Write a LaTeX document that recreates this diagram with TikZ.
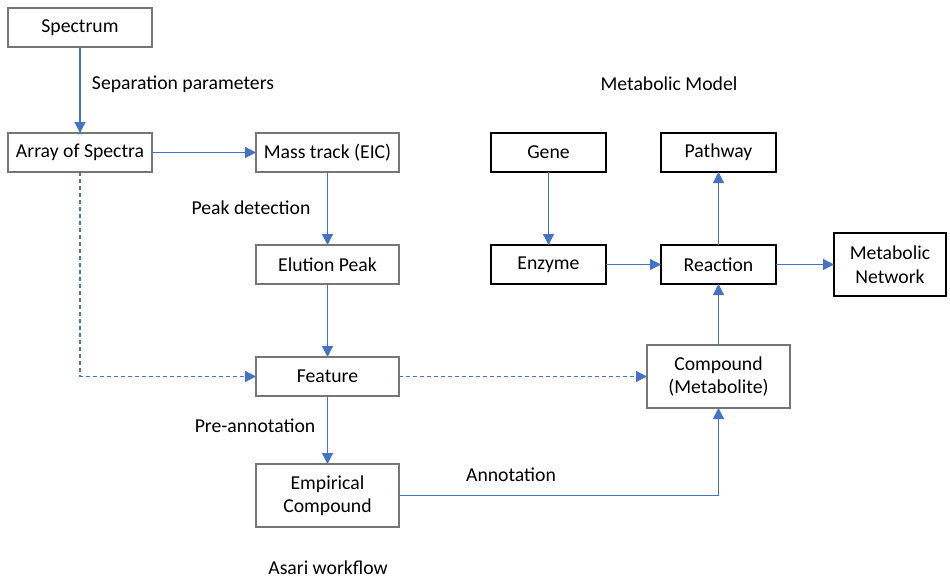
\documentclass[tikz,border=0pt]{standalone}
\usepackage{fontspec}
\setmainfont{Carlito}
\usetikzlibrary{arrows.meta,positioning}
\definecolor{linkblue}{HTML}{4472C4}
\definecolor{boxgray}{HTML}{767676}
\tikzset{every picture/.style={line width=1.2pt}}

\begin{document}
\begin{tikzpicture}[x=1pt,y=-1pt,node distance=73pt,
    font=\fontsize{19.7}{23.5}\selectfont,
    box/.style={draw=boxgray,line width=1.2pt,minimum width=143pt,minimum height=39pt,inner sep=0pt,outer sep=0pt,align=center},
    mbox/.style={draw=black,line width=1.2pt,minimum width=115pt,minimum height=39pt,inner sep=0pt,outer sep=0pt,align=center},
    tall/.style={minimum height=63pt},
    link/.style={draw=linkblue,line width=1.2pt,-{Triangle[length=11pt,width=11pt]}},
    maybe/.style={link,dash pattern=on 4pt off 3pt}]
    \useasboundingbox (0,0) rectangle (950,581);
    % asari workflow
    \node[box,minimum width=144pt] (spectrum) at (80,27.5) {Spectrum};
    \node[box,minimum width=144pt,below=86pt of spectrum] (array) {Array of Spectra};
    \node[box,right=104pt of array] (masstrack) {Mass track (EIC)};
    \node[box,below=of masstrack] (elution) {Elution Peak};
    \node[box,below=of elution] (feature) {Feature};
    \node[box,tall,below=68pt of feature] (empirical) {Empirical\\Compound};
    % metabolic model
    \node[mbox,right=92pt of masstrack] (gene) {Gene};
    \node[mbox,below=of gene] (enzyme) {Enzyme};
    \node[mbox,right=55pt of enzyme] (reaction) {Reaction};
    \node[mbox,above=of reaction] (pathway) {Pathway};
    \node[mbox,tall,minimum width=112pt,right=58pt of reaction] (network) {Metabolic\\Network};
    \node[box,tall,below=61pt of reaction] (compound) {Compound\\(Metabolite)};
    \coordinate (turn) at (array.south |- feature.west);
    % labels
    \node (seplabel) at (183,84) {Separation parameters};
    \node (modellabel) at (669,84) {Metabolic Model};
    \node (peaklabel) at (251,208) {Peak detection};
    \node (prelabel) at (255,426) {Pre-annotation};
    \node (annlabel) at (511,475) {Annotation};
    \node (asarilabel) at (328,568) {Asari workflow};
    % connectors
    \draw[link] (spectrum) -- (array);
    \draw[link] (array) -- (masstrack);
    \draw[link] (masstrack) -- (elution);
    \draw[link] (elution) -- (feature);
    \draw[link] (feature) -- (empirical);
    \draw[maybe] (array.south) -- (turn) -- (feature.west);
    \draw[maybe] (feature) -- (compound);
    \draw[link] (empirical.east) -| (compound.south);
    \draw[link] (gene) -- (enzyme);
    \draw[link] (enzyme) -- (reaction);
    \draw[link] (reaction) -- (pathway);
    \draw[link] (reaction) -- (network);
    \draw[link] (compound.north -| reaction.south) -- (reaction.south);
\end{tikzpicture}
\end{document}
